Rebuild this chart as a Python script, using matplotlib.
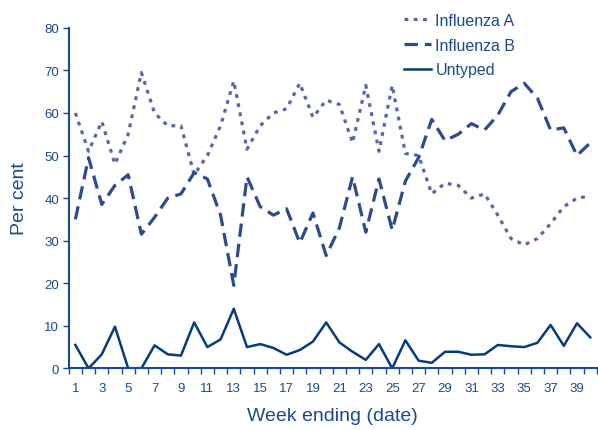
import matplotlib.pyplot as plt
from matplotlib.ticker import MultipleLocator

plt.rcParams['font.family'] = ['Liberation Sans', 'DejaVu Sans']

weeks = list(range(1, 41))

influenza_a = [60, 51, 58, 48, 55, 69.5, 60, 57, 57, 45.5,
               50, 57, 67.5, 51.5, 57, 60, 61, 67, 59, 63,
               62, 53, 66.5, 51, 66.5, 50.5, 50, 41, 43.5, 43,
               40, 41, 36, 30.5, 29, 30.5, 34, 38, 40, 40.5]
influenza_b = [35, 49.5, 38.5, 43, 45.5, 31.5, 35.5, 40, 41, 46,
               44.5, 36, 19.5, 45, 38, 36, 37.5, 29.5, 36.5, 26.5,
               33, 45, 32, 44.5, 32.5, 44, 49.5, 58.5, 53.5, 55,
               57.5, 56, 59.5, 65, 67, 63.5, 56, 56.5, 50, 53]
untyped = [5.5, 0, 3.3, 9.8, 0, 0, 5.4, 3.3, 3, 10.8,
           5, 6.8, 14, 5, 5.7, 4.8, 3.2, 4.3, 6.3, 10.8,
           6.1, 3.9, 2, 5.7, 0, 6.6, 1.8, 1.3, 3.9, 3.9,
           3.2, 3.3, 5.5, 5.2, 5, 6, 10.2, 5.3, 10.6, 7.3]

navy = '#1b4a8e'
col_a = '#5867a8'
col_b = '#2f4b8c'
col_u = '#063c7e'

fig = plt.figure(figsize=(5.98, 4.31), dpi=100)
ax = fig.add_axes([0.115, 0.143, 0.883, 0.79])

ax.plot(weeks, influenza_a, color=col_a, lw=2.3, dashes=(1.2, 1.7), label='Influenza A')
ax.plot(weeks, influenza_b, color=col_b, lw=2.3, dashes=(4.2, 2.2), label='Influenza B')
ax.plot(weeks, untyped, color=col_u, lw=1.8, label='Untyped')

ax.set_xlim(0.5, 40.5)
ax.set_ylim(0, 80)
ax.yaxis.set_major_locator(MultipleLocator(10))
ax.set_xticks(range(1, 41, 2))
ax.xaxis.set_minor_locator(MultipleLocator(1, offset=0.5))
ax.tick_params(axis='x', which='major', length=0, pad=10, labelsize=9.5, labelcolor=navy)
ax.tick_params(axis='x', which='minor', length=4, width=1, color=navy, direction='out')
ax.tick_params(axis='y', length=4, width=1, color=navy, labelsize=9.5, labelcolor=navy, pad=3)

for s in ['top', 'right']:
    ax.spines[s].set_visible(False)
for s in ['left', 'bottom']:
    ax.spines[s].set_color(navy)
    ax.spines[s].set_linewidth(1.5)

ax.set_ylabel('Per cent', fontsize=14, color=navy, labelpad=12)
ax.set_xlabel('Week ending (date)', fontsize=14, color=navy, labelpad=9)

leg = ax.legend(loc='upper left', bbox_to_anchor=(0.608, 1.087), frameon=False,
                fontsize=11.5, handlelength=1.7, handletextpad=0.25, labelspacing=0.62,
                labelcolor=navy)

fig.savefig('out.png', dpi=100)
